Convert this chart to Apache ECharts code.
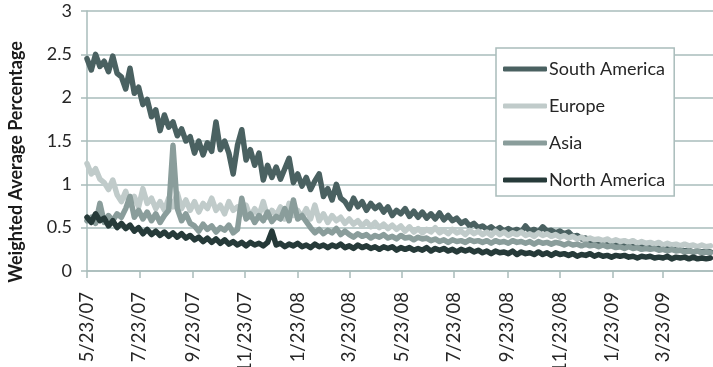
<!DOCTYPE html>
<html><head><meta charset="utf-8">
<script src="https://cdn.jsdelivr.net/npm/echarts@6/dist/echarts.min.js"></script>
<style>html,body{margin:0;padding:0;background:#fff}#c{width:713px;height:367px}</style>
</head><body><div id="c"></div>
<script>
const seriesNames = ['South America', 'Europe', 'Asia', 'North America'];
const tickLabels = ['5/23/07','7/23/07','9/23/07','11/23/07','1/23/08','3/23/08','5/23/08','7/23/08','9/23/08','11/23/08','1/23/09','3/23/09'];
const yTicks = [0, 0.5, 1, 1.5, 2, 2.5, 3];
const yTitle = 'Weighted Average Percentage';
// one value every 5 days starting 5/23/07
const southAmerica = [
2.45,2.32,2.50,2.36,2.42, 2.30,2.48,2.28,2.24,2.10, 2.34,2.05,2.12,1.92,1.98, 1.78,1.86,1.62,1.80,1.66,
1.72,1.56,1.64,1.50,1.55, 1.36,1.50,1.34,1.48,1.38, 1.72,1.40,1.50,1.36,1.12, 1.45,1.63,1.28,1.40,1.22,
1.36,1.05,1.22,1.08,1.20, 1.06,1.18,1.30,1.02,1.12, 0.98,1.08,0.94,1.04,1.12, 0.86,0.95,0.82,1.00,0.84,
0.80,0.72,0.84,0.74,0.80, 0.70,0.78,0.72,0.76,0.68, 0.74,0.64,0.70,0.66,0.72, 0.63,0.69,0.62,0.68,0.61,
0.66,0.60,0.67,0.59,0.64, 0.58,0.61,0.55,0.58,0.52, 0.55,0.50,0.52,0.48,0.51, 0.47,0.50,0.46,0.49,0.46,
0.48,0.45,0.52,0.46,0.48, 0.45,0.51,0.46,0.47,0.44, 0.46,0.43,0.45,0.40,0.41, 0.37,0.38,0.35,0.36,0.33,
0.34,0.32,0.33,0.31,0.32, 0.30,0.31,0.29,0.30,0.28, 0.29,0.27,0.28,0.26,0.27, 0.25,0.26,0.24,0.25,0.23,
0.24,0.22,0.23,0.22,0.23,0.22];
const europe = [
1.24,1.12,1.18,1.06, 1.02,0.94,1.05,0.88,
0.80,0.92,0.76,0.86,0.74,0.95,0.78,0.84,
0.72,0.80,0.70, 0.84,0.74,0.90,0.72,0.82,
0.70,0.80,0.68,0.78,0.72,0.84,0.70,0.76,0.66,0.80,0.70,0.74,
0.66,0.76,0.62,0.72,0.64,0.80,0.62,0.70,0.64,0.74,0.60,0.78,0.64,0.70,0.62,0.72,
0.60,0.76,0.58,0.66,0.56,0.64,0.58,0.62,0.55,
0.60,0.54,0.58,0.52,0.57,0.51,0.56,0.50,0.54,0.49,0.53,0.48,0.52,
0.46,0.51,0.45,0.49,0.44,0.48,0.45,0.50,0.44,0.47,0.43,0.48,0.44,0.46,0.42,0.47,0.43,0.46,0.42,0.45,0.41,0.46,
0.42,0.45,0.41,0.44,0.42,0.45,0.41,0.43,0.40,0.44,0.41,0.43,0.40,0.42,0.39,
0.41,0.38,0.40,0.37,0.39,0.36,0.38,0.36,0.37,0.35,0.37,0.34,0.36,0.34,0.35,
0.33,0.35,0.32,0.34,0.32,0.33,0.31,0.33,0.30,0.32,0.30,0.31,0.29,0.31,0.29,0.30,0.28,0.30,0.28,0.29];
const asia = [
0.58,0.62,0.55,0.78, 0.56,0.64,0.58,0.66,
0.62,0.72,0.86,0.62,0.70,0.60,0.68,0.58,
0.66,0.56,0.64,0.70, 1.45, 0.72,0.58,0.66,0.55,
0.52,0.46,0.54,0.48,0.52,0.45,0.50,0.47,0.53,0.44,0.48,
0.84,
0.60,0.66,0.56,0.64,0.58,0.68,0.57,0.63,0.60,0.72,0.58,0.82,0.60,0.64,0.57,
0.50,0.44,0.48,0.43,0.47,0.44,0.49,0.42,0.46,
0.42,0.39,0.43,0.40,0.42,0.38,0.41,0.39,0.42,0.38,0.40,0.37,0.41,0.38,0.39,0.36,0.39,0.37,0.38,
0.35,0.37,0.34,0.36,0.33,0.36,0.34,0.35,0.33,0.36,0.34,0.35,0.33,0.35,0.32,0.35,0.33,0.34,0.32,0.35,0.33,0.34,0.32,0.34,0.31,0.34,0.32,0.33,0.31,0.33,0.32,
0.30,0.32,0.30,0.31,0.29,0.31,0.29,0.30,0.28,0.30,0.28,0.29,0.27,0.28,0.26,0.28,0.26,0.27,0.25,0.26,0.25,0.26,0.24,0.25,0.23,0.25,0.23,0.24,0.22,0.23,0.22,0.23,0.21,0.22,0.21];
const northAmerica = [
0.62,0.56,0.66,0.58,0.61,
0.52,0.58,0.50,0.55,0.49,0.53,
0.46,0.50,0.43,0.48,0.42,0.46,0.41,0.45,0.40,0.44,0.39,0.43,0.38,
0.41,0.36,0.39,0.34,0.38,0.33,0.37,0.32,0.36,0.31,0.34,0.30,0.33,
0.29,0.33,0.30,0.32,0.29,0.33,0.46,0.30,
0.32,0.28,0.31,0.29,0.32,0.28,0.30,0.27,0.31,0.28,
0.30,0.27,0.30,0.28,0.31,0.27,0.29,0.26,0.30,0.27,
0.29,0.26,0.28,0.25,0.28,0.26,0.28,0.24,0.27,0.25,
0.27,0.24,0.26,0.24,0.27,0.23,0.26,0.24,0.26,0.23,
0.25,0.22,0.25,0.23,0.25,0.22,
0.24,0.21,0.23,0.20,0.23,0.21,0.22,0.20,0.23,0.19,
0.22,0.20,0.21,0.19,0.22,0.19,0.21,0.18,0.21,0.19,
0.20,0.18,0.20,0.17,0.19,0.18,0.20,0.17,0.19,0.17,
0.18,0.16,0.18,0.17,0.18,0.16,0.17,0.15,0.17,0.16,
0.17,0.15,0.16,0.15,0.17,0.14,0.16,0.15,0.16,0.14,
0.16,0.14,0.15,0.14,0.15];
const colors = ['#4a6161', '#c0cbca', '#8a9d9b', '#263a39'];
const gridColor = '#a9bcbb';
const FONT = 'Lato';

const START = Date.UTC(2007, 4, 23);
const N_DAYS = 729;
const STEP = 5;
const categories = [];
for (let d = 0; d < N_DAYS; d++) {
  const t = new Date(START + d * 86400000);
  categories.push((t.getUTCMonth() + 1) + '/' + t.getUTCDate() + '/' + String(t.getUTCFullYear()).slice(2));
}
const tickSet = new Set(tickLabels);
const allValues = [southAmerica, europe, asia, northAmerica];

const chart = echarts.init(document.getElementById('c'), null, {renderer: 'canvas'});
chart.setOption({
  animation: false,
  backgroundColor: '#ffffff',
  grid: {left: 87, right: 0, top: 11, bottom: 96, outerBoundsMode: 'none', containLabel: false},
  legend: {
    data: seriesNames,
    orient: 'vertical',
    left: 496, top: 48,
    padding: [11, 9, 6, 7],
    itemGap: 17,
    itemWidth: 44, itemHeight: 5,
    icon: 'roundRect',
    borderColor: gridColor, borderWidth: 1.5,
    backgroundColor: '#ffffff',
    selectedMode: false,
    textStyle: {fontFamily: FONT, fontSize: 18, color: '#262626', lineHeight: 20, padding: [0, 0, 0, -3]}
  },
  graphic: [{
    type: 'text', x: 16, y: 162, rotation: Math.PI / 2,
    style: {text: yTitle, font: 'bold 18px Lato', fill: '#1a1a1a', align: 'center', verticalAlign: 'middle'}
  }],
  xAxis: {
    type: 'category', data: categories, boundaryGap: false,
    axisLine: {lineStyle: {color: gridColor, width: 1.5}},
    axisTick: {show: true, length: 7, lineStyle: {color: gridColor, width: 1.5}, interval: (i, v) => tickSet.has(v)},
    axisLabel: {interval: (i, v) => tickSet.has(v), rotate: 90, margin: 21, fontFamily: FONT, fontSize: 18.5, color: '#262626', hideOverlap: false},
    splitLine: {show: false}
  },
  yAxis: {
    type: 'value', min: yTicks[0], max: yTicks[yTicks.length - 1], interval: 0.5,
    axisLine: {show: true, lineStyle: {color: gridColor, width: 1.5}},
    axisTick: {show: true, length: 6, lineStyle: {color: gridColor, width: 1.5}},
    axisLabel: {margin: 15, fontFamily: FONT, fontSize: 18, color: '#262626'},
    splitLine: {show: true, lineStyle: {color: gridColor, width: 1.5}}
  },
  series: seriesNames.map((name, k) => ({
    name, type: 'line', symbol: 'none', showSymbol: false,
    data: allValues[k].map((v, i) => [i * STEP, v]),
    lineStyle: {color: colors[k], width: 5.5, join: 'round', cap: 'round'},
    itemStyle: {color: colors[k]},
    emphasis: {disabled: true}
  }))
});
</script></body></html>
